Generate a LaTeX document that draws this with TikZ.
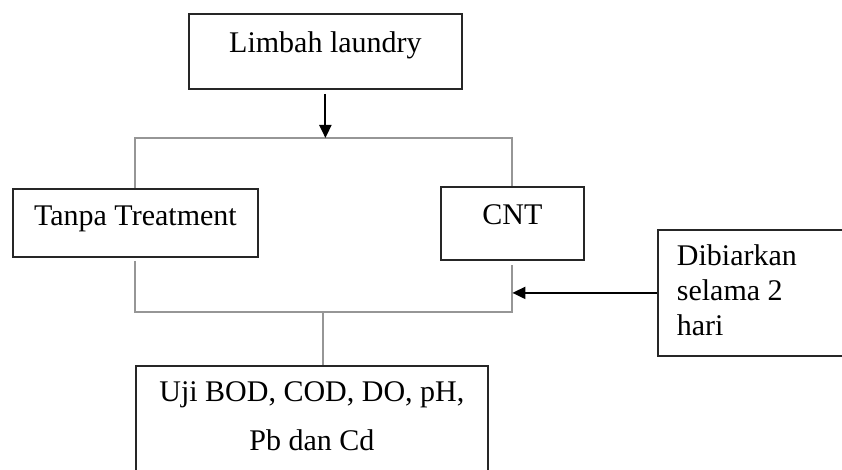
\documentclass[tikz,border=0pt]{standalone}
\usepackage{fontspec}
\setmainfont{Liberation Serif}
\usetikzlibrary{arrows.meta}
\definecolor{linegray}{RGB}{150,150,150}
\begin{document}
\begin{tikzpicture}[x=1pt, y=-1pt,
    kotak/.style={draw=black!85, line width=1.8pt, inner sep=0pt, anchor=north west,
      font=\fontsize{30}{35}\selectfont},
    garis/.style={draw=linegray, line width=2pt},
    panah/.style={draw=black, line width=2pt, -{Triangle[length=13pt,width=12pt]}}]
  \useasboundingbox (0,0) rectangle (842,470);
  \clip (0,0) rectangle (842,470);

  % Kotak-kotak
  \node[kotak, minimum width=273pt, text height=39pt, text depth=36pt] (limbah) at (188,13) {Limbah laundry};
  \node[kotak, minimum width=245pt, text height=37pt, text depth=31pt] (tanpa) at (12,188) {Tanpa Treatment};
  \node[kotak, minimum width=143pt, text height=38pt, text depth=35pt] (cnt) at (440,186) {CNT};
  \node[kotak, inner xsep=19pt, text height=36pt, text depth=90pt] (dib) at (657,229)
    {\begin{tabular}[t]{@{}p{160pt}@{}}Dibiarkan\\selama 2\\hari\end{tabular}};
  \node[kotak, minimum width=352pt, text height=36pt, text depth=115pt] (uji) at (135,365)
    {\begin{tabular}[t]{@{}c@{}}Uji BOD, COD, DO, pH,\\[14pt]Pb dan Cd\end{tabular}};

  % Percabangan
  \coordinate (cabang) at (323,138);
  \coordinate (gabung) at (323,312);
  \draw[garis] (tanpa.north) |- (cabang) -| (cnt.north);
  \draw[garis, shorten <=3pt, shorten >=4pt] (tanpa.south) |- (gabung) -| (cnt.south);
  \draw[garis] (gabung) -- (gabung |- uji.north);

  % Panah
  \draw[panah, shorten <=4pt] (limbah.south) -- (limbah.south |- cabang);
  \draw[panah] (dib.west) -- (dib.west -| cnt.south);
\end{tikzpicture}
\end{document}
